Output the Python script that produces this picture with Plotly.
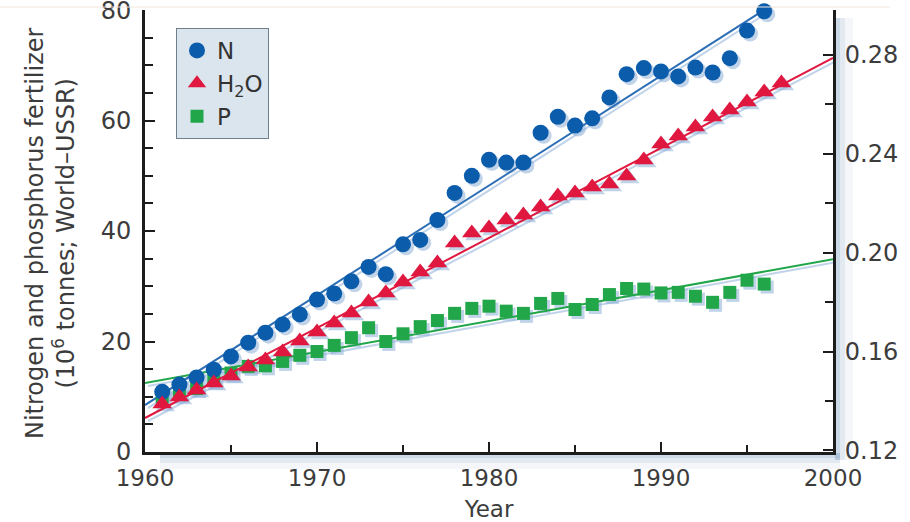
import plotly.graph_objects as go

# ---------------- data ----------------
years_N = list(range(1961, 1997))
N_vals = [10.9, 12.2, 13.5, 14.9, 17.3, 19.8, 21.6, 23.1, 24.9, 27.6,
          28.7, 30.9, 33.5, 32.2, 37.6, 38.4, 42.0, 46.9, 50.0, 52.9,
          52.4, 52.4, 57.8, 60.7, 59.1, 60.4, 64.2, 68.4, 69.5, 68.9,
          68.0, 69.6, 68.7, 71.3, 76.3, 79.8]

years_P = list(range(1961, 1997))
P_vals = [10.0, 10.6, 11.5, 13.0, 14.3, 15.5, 15.6, 16.4, 17.5, 18.2,
          19.3, 20.7, 22.5, 20.0, 21.4, 22.7, 23.8, 25.1, 26.0, 26.4,
          25.5, 25.1, 26.9, 27.8, 25.8, 26.7, 28.5, 29.6, 29.5, 28.8,
          28.9, 28.2, 27.1, 28.9, 31.1, 30.4]

years_H = list(range(1961, 1998))
H2O_vals = [0.1388, 0.1416, 0.1444, 0.1473, 0.1501, 0.1537, 0.1566, 0.1598,
            0.1643, 0.1679, 0.1715, 0.1756, 0.1800, 0.1837, 0.1881, 0.1922,
            0.1958, 0.2039, 0.2080, 0.2100, 0.2132, 0.2152, 0.2185, 0.2229,
            0.2242, 0.2266, 0.2278, 0.2310, 0.2375, 0.2440, 0.2472, 0.2509,
            0.2549, 0.2577, 0.2610, 0.2650, 0.2687]

fit_years = [1960, 2000]
N_fit = [8.5, 88.0]
P_fit = [12.5, 34.9]
H2O_fit = [0.1331, 0.2788]

x_ticks = [1960, 1970, 1980, 1990, 2000]
y_ticks = [0, 20, 40, 60, 80]
y2_ticks = [0.12, 0.16, 0.20, 0.24, 0.28]
y2_labels = ["0.12", "0.16", "0.20", "0.24", "0.28"]

# ---------------- styling ----------------
BLUE = "#0b5cab"
RED = "#e0173f"
GREEN = "#22a64a"
SHADOW = "rgba(140,175,215,0.55)"
AX = "#1c1c1c"
TXT = "#3c3c3c"
FONT = "DejaVu Sans, Liberation Sans, sans-serif"

W, H = 910, 522
L, R, T, B = 145, 77, 10, 70
pw, ph = W - L - R, H - T - B

XR = [1960, 2000]
YR = [0, 80.02]
Y2R = [0.11934, 0.29821]
SH = 3  # shadow offset in pixels


def px(xp):
    return (xp - L) / pw


def py(yp):
    return (H - B - yp) / ph


# shadow axes: same scale, shifted SH px right and down
kx = pw / (XR[1] - XR[0])
ky = ph / (YR[1] - YR[0])
ky2 = ph / (Y2R[1] - Y2R[0])
XR_s = [XR[0], XR[1] - SH / kx]
YR_s = [YR[0] + SH / ky, YR[1]]
Y2R_s = [Y2R[0] + SH / ky2, Y2R[1]]

fig = go.Figure()

# ---- shadow layer (drawn first, on hidden axes x / y / y4) ----
fig.add_trace(go.Scatter(x=fit_years, y=P_fit, mode="lines", xaxis="x", yaxis="y",
                         line=dict(color=SHADOW, width=2), showlegend=False, hoverinfo="skip"))
fig.add_trace(go.Scatter(x=fit_years, y=N_fit, mode="lines", xaxis="x", yaxis="y",
                         line=dict(color=SHADOW, width=2), showlegend=False, hoverinfo="skip"))
fig.add_trace(go.Scatter(x=years_P, y=P_vals, mode="markers", xaxis="x", yaxis="y",
                         marker=dict(symbol="square", size=13, color=SHADOW),
                         showlegend=False, hoverinfo="skip", cliponaxis=False))
fig.add_trace(go.Scatter(x=years_N, y=N_vals, mode="markers", xaxis="x", yaxis="y",
                         marker=dict(symbol="circle", size=16, color=SHADOW),
                         showlegend=False, hoverinfo="skip", cliponaxis=False))
fig.add_trace(go.Scatter(x=fit_years, y=H2O_fit, mode="lines", xaxis="x", yaxis="y4",
                         line=dict(color=SHADOW, width=2), showlegend=False, hoverinfo="skip"))
fig.add_trace(go.Scatter(x=years_H, y=H2O_vals, mode="markers", xaxis="x", yaxis="y4",
                         marker=dict(symbol="triangle-up", size=17, color=SHADOW),
                         showlegend=False, hoverinfo="skip", cliponaxis=False))

# ---- main layer (axes x2 / y2 / y3) ----
fig.add_trace(go.Scatter(x=fit_years, y=P_fit, mode="lines", xaxis="x2", yaxis="y2",
                         line=dict(color=GREEN, width=2), showlegend=False, hoverinfo="skip"))
fig.add_trace(go.Scatter(x=fit_years, y=N_fit, mode="lines", xaxis="x2", yaxis="y2",
                         line=dict(color="#2d6fb6", width=2), showlegend=False, hoverinfo="skip"))
fig.add_trace(go.Scatter(x=years_P, y=P_vals, mode="markers", name="P",
                         xaxis="x2", yaxis="y2",
                         marker=dict(symbol="square", size=13, color=GREEN),
                         legendrank=3, cliponaxis=False))
fig.add_trace(go.Scatter(x=years_N, y=N_vals, mode="markers", name="N",
                         xaxis="x2", yaxis="y2",
                         marker=dict(symbol="circle", size=16, color=BLUE),
                         legendrank=1, cliponaxis=False))
fig.add_trace(go.Scatter(x=fit_years, y=H2O_fit, mode="lines", xaxis="x2", yaxis="y3",
                         line=dict(color=RED, width=2), showlegend=False, hoverinfo="skip"))
fig.add_trace(go.Scatter(x=years_H, y=H2O_vals, mode="markers",
                         name="H<sub>2</sub>O", xaxis="x2", yaxis="y3",
                         marker=dict(symbol="triangle-up", size=17, color=RED),
                         legendrank=2, cliponaxis=False))

# axis drop shadows
shapes = []
shade = "rgba(110,145,185,{})"
for (a, b, op) in [(453, 458, 0.35), (458, 463, 0.2), (463, 469, 0.08)]:
    shapes.append(dict(type="rect", xref="paper", yref="paper",
                       x0=px(160), x1=px(840), y0=py(b), y1=py(a),
                       fillcolor=shade.format(op), line=dict(width=0),
                       layer="below"))
for (a, b, op) in [(835, 840, 0.35), (840, 845, 0.2), (845, 853, 0.08)]:
    shapes.append(dict(type="rect", xref="paper", yref="paper",
                       x0=px(a), x1=px(b), y0=py(460), y1=py(18),
                       fillcolor=shade.format(op), line=dict(width=0),
                       layer="below"))
# faint crop line at top
shapes.append(dict(type="line", xref="paper", yref="paper",
                   x0=px(0), x1=px(890), y0=py(7), y1=py(7),
                   line=dict(color="#f2e4da", width=1)))

annotations = [
    dict(text="Nitrogen and phosphorus fertilizer<br>(10<sup>6</sup> tonnes; World\u2013USSR)",
         xref="paper", yref="paper", x=px(50), y=py(233),
         xanchor="center", yanchor="middle", textangle=-90, showarrow=False,
         font=dict(family=FONT, size=24, color=TXT)),
]

tick_common = dict(ticks="inside", ticklen=10, tickwidth=2, tickcolor=AX,
                   showline=True, linewidth=3, linecolor=AX, automargin=False,
                   showgrid=False, zeroline=False, ticklabeloverflow="allow")

fig.update_layout(
    width=W, height=H,
    margin=dict(l=L, r=R, t=T, b=B, autoexpand=False),
    paper_bgcolor="white", plot_bgcolor="rgba(0,0,0,0)",
    font=dict(family=FONT, color=TXT),
    shapes=shapes, annotations=annotations,
    showlegend=True,
    legend=dict(x=px(176), y=py(28), xanchor="left", yanchor="top",
                bgcolor="#dbe5ee", bordercolor="#6f7f8c", borderwidth=1,
                font=dict(family=FONT, size=23, color="#333333"),
                traceorder="normal", itemwidth=30, tracegroupgap=0),
    # hidden shadow axes
    xaxis=dict(range=XR_s, domain=[SH / pw, 1], anchor="y", visible=False,
               showgrid=False, zeroline=False, automargin=False),
    yaxis=dict(range=YR_s, domain=[0, 1 - SH / ph], anchor="x", visible=False,
               showgrid=False, zeroline=False, automargin=False),
    yaxis4=dict(range=Y2R_s, overlaying="y", anchor="x", visible=False,
                showgrid=False, zeroline=False, automargin=False),
    # visible main axes
    xaxis2=dict(range=XR, tickvals=x_ticks, anchor="y2", domain=[0, 1],
                tickfont=dict(family=FONT, size=23, color=TXT),
                ticklabelstandoff=3,
                minor=dict(dtick=5, ticks="inside", ticklen=7, tickwidth=2,
                           tickcolor=AX, showgrid=False),
                title=dict(text="Year", font=dict(family=FONT, size=23, color=TXT),
                           standoff=15),
                **tick_common),
    yaxis2=dict(range=YR, tickvals=y_ticks, anchor="x2", domain=[0, 1],
                tickfont=dict(family=FONT, size=24, color=TXT),
                ticklabelstandoff=6,
                minor=dict(dtick=5, ticks="inside", ticklen=8, tickwidth=2,
                           tickcolor=AX, showgrid=False),
                **tick_common),
    yaxis3=dict(range=Y2R, overlaying="y2", side="right", anchor="x2",
                tickvals=y2_ticks, ticktext=y2_labels,
                tickfont=dict(family=FONT, size=24, color=TXT),
                ticklabelstandoff=4,
                minor=dict(tick0=0.12, dtick=0.02, ticks="inside", ticklen=8,
                           tickwidth=2, tickcolor=AX, showgrid=False),
                **tick_common),
)

fig.write_html("out.html")
